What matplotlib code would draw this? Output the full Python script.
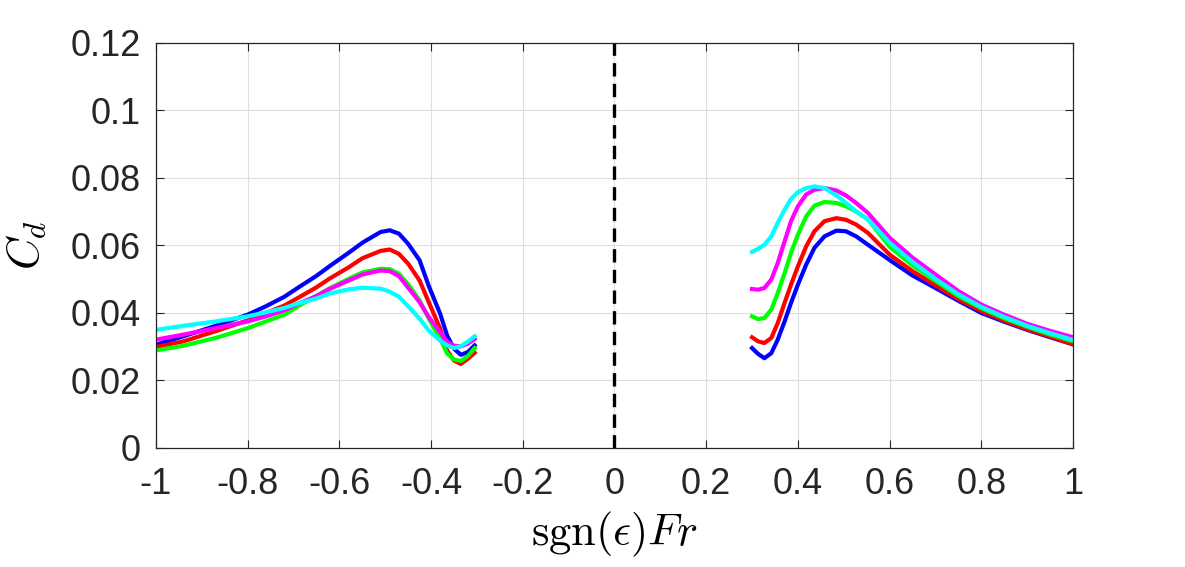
import matplotlib
matplotlib.use("Agg")
import matplotlib.pyplot as plt

plt.rcParams['font.family'] = ['Liberation Sans', 'DejaVu Sans']
plt.rcParams['mathtext.fontset'] = 'cm'

# Left branch (negative Fr)
x_left = [-1.0, -0.94, -0.87, -0.8, -0.76, -0.72, -0.69, -0.65, -0.62, -0.58, -0.55, -0.51,
          -0.49, -0.47, -0.45, -0.425, -0.405, -0.38, -0.365, -0.35, -0.335, -0.32, -0.305]
blue_left = [0.0306, 0.0331, 0.0362, 0.0395, 0.0420, 0.0448, 0.0475, 0.0510, 0.0540, 0.0578, 0.0608, 0.0640,
             0.0645, 0.0635, 0.0605, 0.0556, 0.0480, 0.0397, 0.0333, 0.0294, 0.0276, 0.0284, 0.0304]
red_left = [0.0299, 0.0316, 0.0346, 0.0378, 0.0400, 0.0422, 0.0445, 0.0476, 0.0503, 0.0535, 0.0562, 0.0584,
            0.0588, 0.0575, 0.0546, 0.0496, 0.0432, 0.0353, 0.0289, 0.0259, 0.0249, 0.0264, 0.0282]
green_left = [0.0289, 0.0303, 0.0326, 0.0355, 0.0375, 0.0395, 0.0420, 0.0451, 0.0474, 0.0501, 0.0520, 0.0531,
              0.0530, 0.0516, 0.0485, 0.0437, 0.0383, 0.0323, 0.0280, 0.0262, 0.0258, 0.0272, 0.0296]
magenta_left = [0.0321, 0.0336, 0.0355, 0.0375, 0.0390, 0.0408, 0.0427, 0.0450, 0.0472, 0.0496, 0.0514, 0.0526,
                0.0524, 0.0509, 0.0475, 0.0432, 0.0388, 0.0343, 0.0315, 0.0303, 0.0301, 0.0309, 0.0323]
cyan_left = [0.0350, 0.0362, 0.0375, 0.0390, 0.0402, 0.0415, 0.0428, 0.0443, 0.0458, 0.0470, 0.0475, 0.0472,
             0.0463, 0.0448, 0.0420, 0.0383, 0.0348, 0.0318, 0.0304, 0.0296, 0.0302, 0.0315, 0.0331]

# Right branch (positive Fr)
x_right = [0.300, 0.313, 0.327, 0.342, 0.356, 0.371, 0.385, 0.400, 0.418, 0.436, 0.458, 0.484,
           0.505, 0.527, 0.553, 0.6, 0.65, 0.7, 0.75, 0.8, 0.85, 0.9, 0.95, 1.0]
blue_right = [0.0296, 0.0279, 0.0266, 0.0281, 0.0321, 0.0375, 0.0430, 0.0484, 0.0543, 0.0593, 0.0627, 0.0644,
              0.0642, 0.0627, 0.0602, 0.0557, 0.0511, 0.0474, 0.0436, 0.0400, 0.0374, 0.0350, 0.0328, 0.0307]
red_right = [0.0328, 0.0316, 0.0311, 0.0326, 0.0370, 0.0430, 0.0484, 0.0538, 0.0597, 0.0642, 0.0672, 0.0681,
             0.0676, 0.0662, 0.0637, 0.0573, 0.0524, 0.0482, 0.0441, 0.0406, 0.0377, 0.0352, 0.0330, 0.0307]
green_right = [0.0390, 0.0382, 0.0385, 0.0410, 0.0459, 0.0518, 0.0578, 0.0632, 0.0686, 0.0718, 0.0729, 0.0726,
               0.0716, 0.0701, 0.0677, 0.0596, 0.0541, 0.0495, 0.0450, 0.0414, 0.0384, 0.0359, 0.0336, 0.0316]
magenta_right = [0.0471, 0.0469, 0.0474, 0.0499, 0.0548, 0.0612, 0.0672, 0.0716, 0.0751, 0.0765, 0.0770, 0.0763,
                 0.0748, 0.0726, 0.0696, 0.0623, 0.0564, 0.0514, 0.0465, 0.0425, 0.0395, 0.0368, 0.0347, 0.0328]
cyan_right = [0.0581, 0.0590, 0.0602, 0.0627, 0.0667, 0.0706, 0.0738, 0.0758, 0.0770, 0.0775, 0.0770, 0.0748,
              0.0726, 0.0701, 0.0677, 0.0608, 0.0551, 0.0501, 0.0455, 0.0418, 0.0388, 0.0362, 0.0340, 0.0320]

x_ticks = [-1, -0.8, -0.6, -0.4, -0.2, 0, 0.2, 0.4, 0.6, 0.8, 1]
x_ticklabels = ['-1', '-0.8', '-0.6', '-0.4', '-0.2', '0', '0.2', '0.4', '0.6', '0.8', '1']
y_ticks = [0, 0.02, 0.04, 0.06, 0.08, 0.1, 0.12]
y_ticklabels = ['0', '0.02', '0.04', '0.06', '0.08', '0.1', '0.12']

fig = plt.figure(figsize=(11.85, 5.67), dpi=100)
ax = fig.add_axes([0.1316, 0.2099, 0.9055 - 0.1316, 0.9242 - 0.2099])

series = [
    (blue_left, blue_right, '#0000ff'),
    (red_left, red_right, '#ff0000'),
    (green_left, green_right, '#00ff00'),
    (magenta_left, magenta_right, '#ff00ff'),
    (cyan_left, cyan_right, '#00ffff'),
]
for yl, yr, c in series:
    ax.plot(x_left, yl, color=c, lw=3.0, solid_joinstyle='round')
    ax.plot(x_right, yr, color=c, lw=3.0, solid_joinstyle='round')

ax.plot([0, 0], [0, 0.12], color='black', lw=2.4, ls=(0, (4, 2.2)))

ax.set_xlim(-1, 1)
ax.set_ylim(0, 0.12)
ax.set_xticks(x_ticks)
ax.set_xticklabels(x_ticklabels)
ax.set_yticks(y_ticks)
ax.set_yticklabels(y_ticklabels)
ax.tick_params(axis='both', direction='in', top=True, right=True, labelsize=26,
               length=6, width=0.8, colors='#262626')
ax.tick_params(axis='x', pad=14)
ax.tick_params(axis='y', pad=11)
ax.grid(True, color='#dedede', lw=0.8)
ax.set_axisbelow(True)
for s in ax.spines.values():
    s.set_linewidth(0.9)
    s.set_color('#262626')

ax.set_xlabel(r'$\mathrm{sgn}(\epsilon)Fr$', fontsize=32, labelpad=5)
ax.set_ylabel(r'$C_d$', fontsize=32, labelpad=16)

fig.savefig('out.png', dpi=100)
